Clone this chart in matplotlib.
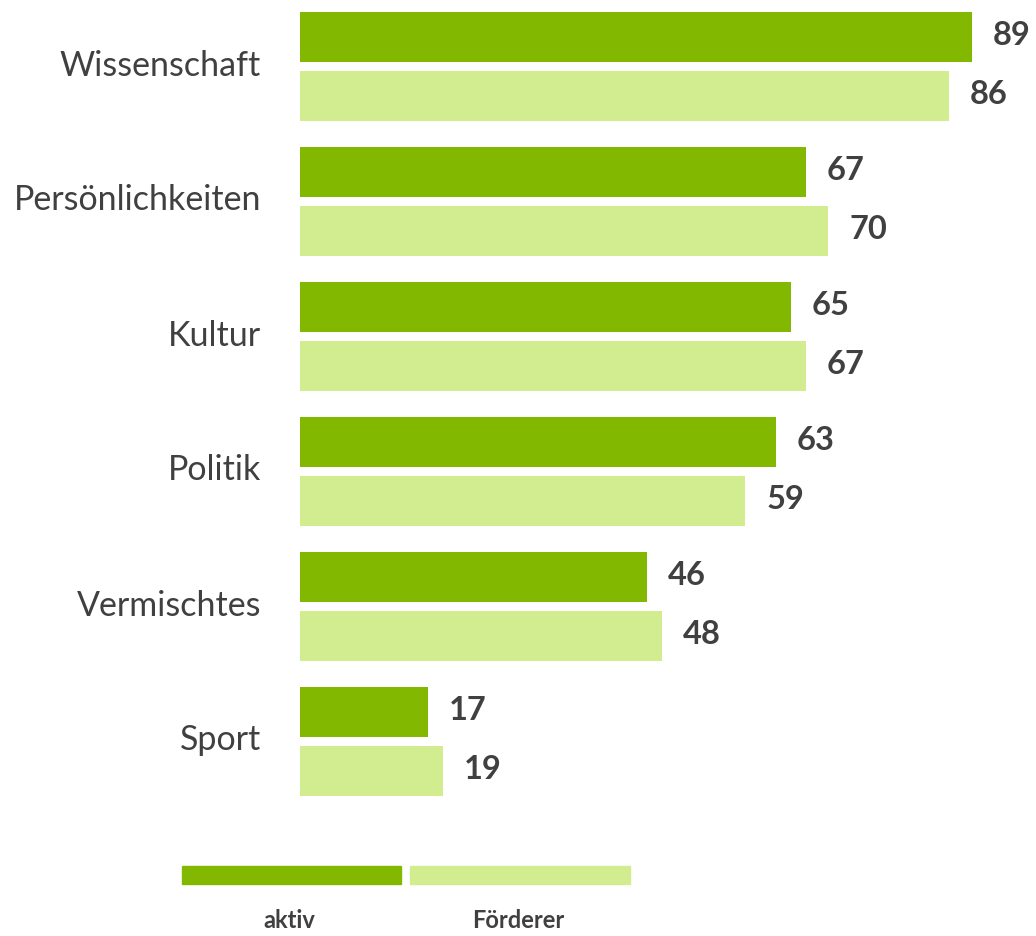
import matplotlib
matplotlib.use("Agg")
import matplotlib.pyplot as plt
import matplotlib.transforms as mtransforms
from matplotlib.patches import Rectangle
import numpy as np

categories = ["Wissenschaft", "Persönlichkeiten", "Kultur", "Politik", "Vermischtes", "Sport"]
aktiv = [89, 67, 65, 63, 46, 17]
foerderer = [86, 70, 67, 59, 48, 19]
series_names = ["aktiv", "Förderer"]

dark = "#82B900"
light = "#D1ED8F"
txt = "#404040"

plt.rcParams["font.family"] = ["Lato", "DejaVu Sans"]

fig = plt.figure(figsize=(10.36, 9.36), dpi=100)
# axes from x=300px to right edge, y=0..810px
ax = fig.add_axes([300 / 1036, 1 - 810 / 936, 736 / 1036, 810 / 936])

y = np.arange(len(categories))
h = 50 / 135
off = 29.5 / 135
b1 = ax.barh(y - off, aktiv, height=h, color=dark)
b2 = ax.barh(y + off, foerderer, height=h, color=light)

for bars, vals in ((b1, aktiv), (b2, foerderer)):
    for bar, v in zip(bars, vals):
        ax.annotate(str(v), (bar.get_width(), bar.get_y() + bar.get_height() / 2),
                    xytext=(15, 1), textcoords="offset points", va="center", ha="left",
                    fontsize=23.5, fontweight="bold", color=txt)

ax.set_xlim(0, 97.5)
ax.set_ylim((810 - 66.5) / 135, -66.5 / 135)
ax.set_yticks(y)
ax.set_yticklabels(categories, fontsize=24.5, color=txt)
ax.tick_params(axis="y", length=0, pad=28)
shift = mtransforms.ScaledTranslation(0, 4 / 100, fig.dpi_scale_trans)
for lab in ax.get_yticklabels():
    lab.set_transform(lab.get_transform() + shift)
ax.set_xticks([])
for s in ax.spines.values():
    s.set_visible(False)

# legend drawn below the plot
for (x0, x1), name, col in (((182, 401), series_names[0], dark), ((410, 630), series_names[1], light)):
    fig.add_artist(Rectangle((x0 / 1036, 1 - 884 / 936), (x1 - x0) / 1036, 18 / 936,
                             transform=fig.transFigure, color=col))
    fig.text((x0 + x1) / 2 / 1036 - 2 / 1036, 1 - 920 / 936, name, ha="center", va="center",
             fontsize=17, fontweight="bold", color=txt)

fig.savefig("out.png", dpi=100)
